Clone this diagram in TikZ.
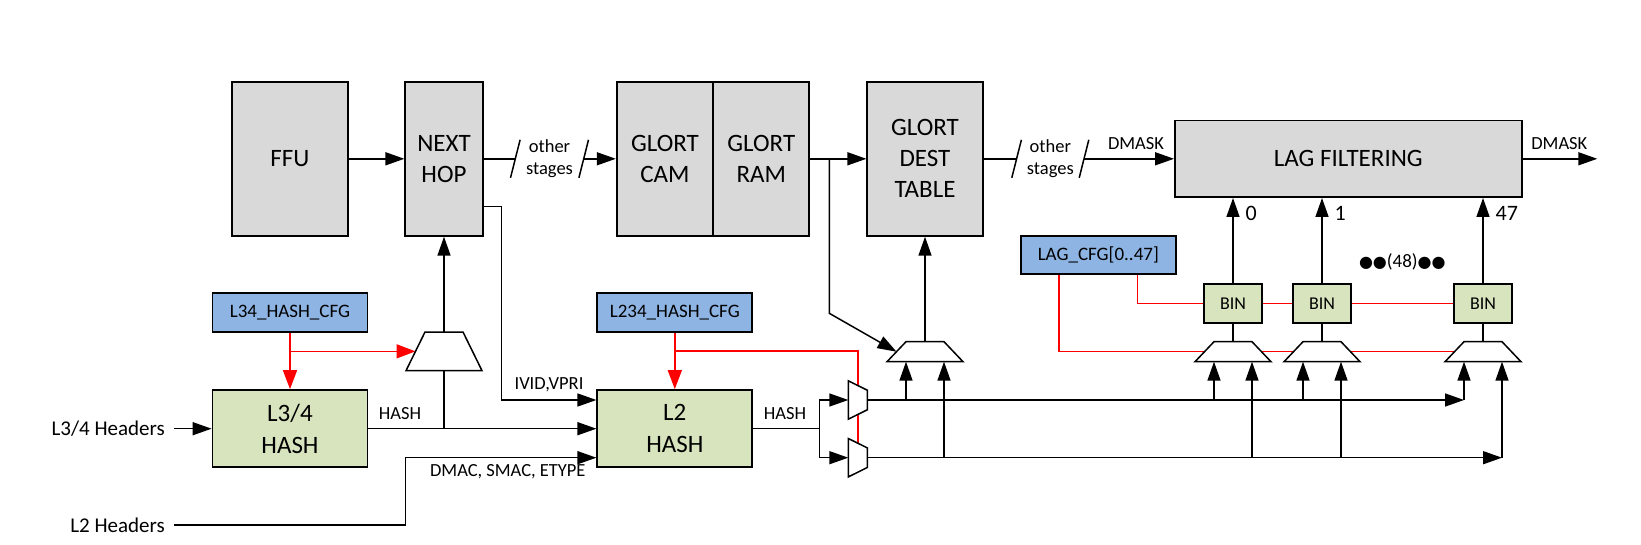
\documentclass[tikz,border=0pt]{standalone}
\usepackage{fontspec}
\setmainfont{Carlito}
\newfontfamily\symfont{DejaVu Sans}
\usetikzlibrary{arrows.meta, calc}
\pgfdeclarelayer{bg}
\pgfsetlayers{bg,main}

\definecolor{unitgray}{HTML}{D9D9D9}
\definecolor{cfgblue}{HTML}{8EB4E3}
\definecolor{hashgreen}{HTML}{D7E4BD}
\newcommand{\bulletpair}{{\symfont\fontsize{16}{18}\selectfont ●●}}

\tikzset{
  unit/.style={draw, line width=1.8pt, fill=unitgray, align=center, inner sep=0pt,
    minimum height=154pt, font=\fontsize{25}{31}\selectfont},
  cfg/.style={draw, line width=1.8pt, fill=cfgblue, minimum width=155pt, minimum height=39pt,
    inner sep=0pt, font=\fontsize{19}{23}\selectfont},
  hashbox/.style={draw, line width=1.8pt, fill=hashgreen, minimum width=155pt, minimum height=77.3pt,
    align=center, inner sep=0pt, font=\fontsize{25}{31.6}\selectfont},
  binbox/.style={draw, line width=1.8pt, fill=hashgreen, minimum width=58pt, minimum height=38.7pt,
    inner sep=0pt, font=\fontsize{18}{22}\selectfont},
  lbl/.style={inner sep=0pt, align=center, font=\fontsize{18.5}{22}\selectfont},
  hdr/.style={inner xsep=9pt, inner ysep=2pt, anchor=east, font=\fontsize{21}{25}\selectfont},
  idx/.style={inner sep=0pt, anchor=west, font=\fontsize{22}{26}\selectfont},
  wire/.style={line width=1.5pt},
  arr/.style={wire, -{Triangle[length=19pt, width=13pt]}},
  cfgline/.style={red, line width=1.5pt},
  cfgarr/.style={cfgline, -{Triangle[length=19pt, width=14pt]}},
  muxline/.style={fill=white, line width=1.5pt, line join=miter},
  % mux lying flat: narrow side on top, #1 = height
  pics/hmux/.style={code={
    \draw[muxline] (-19,0) -- (19,0) -- (38,#1) -- (-38,#1) -- cycle;
    \coordinate (-out) at (0,0);
    \coordinate (-in) at (0,#1);
    \coordinate (-a) at (-19,#1);
    \coordinate (-b) at (19,#1);
    \coordinate (-sel) at (-28.5,#1/2);
  }},
  % mux standing up: narrow side on the right
  pics/vmux/.style={code={
    \draw[muxline] (0,-19.2) -- (19,-9.8) -- (19,9.8) -- (0,19.2) -- cycle;
    \coordinate (-in) at (0,0);
    \coordinate (-out) at (19,0);
    \coordinate (-sel) at (9.5,-14.5);
  }}
}

\begin{document}
\begin{tikzpicture}[x=1pt, y=-1pt]
  \useasboundingbox (0,0) rectangle (1641,545);

  % --- top row: pipeline stages ---
  \node[unit, minimum width=116pt] (ffu) at (290,158.8) {FFU};
  \node[unit, minimum width=77.4pt] (nexthop) at (444,158.8) {NEXT\\HOP};
  \node[unit, minimum width=96.6pt] (cam) at (665,158.8) {GLORT\\CAM};
  \node[unit, minimum width=96pt] (ram) at (761.3,158.8) {GLORT\\RAM};
  \node[unit, minimum width=115.4pt] (dest) at (925,158.8) {GLORT\\DEST\\TABLE};
  \node[unit, minimum width=346.7pt, minimum height=76.6pt] (lag) at (1348.3,158.8) {LAG FILTERING};

  \node[lbl, minimum width=68pt] (stg1) at (549.5,158.8) {other\\stages};
  \node[lbl, minimum width=67pt] (stg2) at (1050.3,158.8) {other\\stages};
  \foreach \s in {stg1, stg2} {
    \draw[wire] ([shift={(4.8,-19)}]\s.west) -- ([shift={(-4.8,19)}]\s.west);
    \draw[wire] ([shift={(4.8,-19)}]\s.east) -- ([shift={(-4.8,19)}]\s.east);
  }

  \draw[arr] (ffu) -- (nexthop);
  \draw[wire] (nexthop) -- (stg1.west);
  \draw[arr] (stg1.east) -- (cam);
  \draw[arr] (ram) -- (dest);
  \draw[wire] (dest) -- (stg2.west);
  \draw[arr] (stg2.east) -- (lag);
  \node[lbl] (dmin) at (1136,144) {DMASK};
  \coordinate (dout) at (1597.3,158.8);
  \draw[arr] (lag) -- (dout);
  \node[lbl] (dmout) at (1559.3,144) {DMASK};

  % --- config blocks and hash units ---
  \node[cfg] (l34cfg) at (290,312.8) {L34\_HASH\_CFG};
  \node[cfg] (l234cfg) at (674.8,312.8) {L234\_HASH\_CFG};
  \node[cfg, minimum width=154.7pt, minimum height=38.6pt] (lagcfg) at (1098.3,255) {LAG\_CFG[0..47]};
  \node[hashbox] (l34hash) at (290,428.7) {L3/4\\HASH};
  \node[hashbox] (l2hash) at (674.8,428.7) {L2\\HASH};

  \node[hdr] (l34hdr) at (174,428.7) {L3/4 Headers};
  \node[hdr] (l2hdr) at (174,525) {L2 Headers};

  % --- muxes ---
  \pic (hmx) at (444,332) {hmux=38.7};
  \pic (dmux) at (925,341.7) {hmux=20};
  \pic (m0) at (1233,341.7) {hmux=20};
  \pic (m1) at (1322,341.7) {hmux=20};
  \pic (m47) at (1483,341.7) {hmux=20};
  \pic (umux) at (848.3,400) {vmux};
  \pic (lmux) at (848.3,457.7) {vmux};

  % --- bins ---
  \node[binbox] (bin0) at (1233,303.3) {BIN};
  \node[binbox] (bin1) at (1322,303.3) {BIN};
  \node[binbox] (bin47) at (1483,303.3) {BIN};
  \foreach \b/\t in {bin0/0, bin1/1, bin47/47} {
    \draw[arr] (\b) -- (\b |- lag.south);
    \node[idx] at ($(\b.north |- lag.south)+(12.5,15.4)$) {\t};
  }
  \draw[wire] (bin0) -- (m0-out);
  \draw[wire] (bin1) -- (m1-out);
  \draw[wire] (bin47) -- (m47-out);
  \node[lbl, font=\fontsize{19}{22}\selectfont] (nbins) at (1402.3,261.7) {\bulletpair(48)\bulletpair};

  % --- hash wiring ---
  \draw[arr] (l34hdr) -- (l34hash);
  \draw[arr] (l34hash) -- (l2hash);
  \node[lbl] (hash1) at (400,414) {HASH};
  \draw[wire] (hmx-in |- l34hash.east) -- (hmx-in);
  \draw[arr] (hmx-out) -- (nexthop);

  \coordinate (ivid) at (501.7,400);
  \draw[arr] (nexthop.east |- 0,206.7) -| (ivid) -- (ivid -| l2hash.west);
  \node[lbl] (ividl) at (549,385) {IVID,VPRI};

  \coordinate (l2turn) at (405.7,457.7);
  \draw[arr] (l2hdr) -| (l2turn) -- (l2turn -| l2hash.west);
  \node[lbl] (dmac) at (507.8,471.7) {DMAC, SMAC, ETYPE};

  \coordinate (split) at (819.3,428.7);
  \draw[wire] (l2hash) -- (split);
  \draw[arr] (split) |- (umux-in);
  \draw[arr] (split) |- (lmux-in);
  \node[lbl] (hash2) at (785,414) {HASH};

  % glort ram output also feeds the dest mux
  \coordinate (rtap) at (829.3,158.8);
  \draw[arr] (rtap) -- ++(0,154.5) -- (dmux-sel);
  \draw[arr] (dmux-out) -- (dest);

  % --- two hash buses ---
  \coordinate (ubend) at (m47-a |- umux-out);
  \coordinate (lbend) at (m47-b |- lmux-out);
  \draw[arr] (umux-out) -- (ubend);
  \draw[arr] (ubend) -- (m47-a);
  \draw[arr] (lmux-out) -- (lbend);
  \draw[arr] (lbend) -- (m47-b);
  \foreach \m in {dmux, m0, m1} {
    \draw[arr] (\m-a |- umux-out) -- (\m-a);
    \draw[arr] (\m-b |- lmux-out) -- (\m-b);
  }

  % --- config lines (red), behind everything ---
  \begin{pgfonlayer}{bg}
    \draw[cfgarr] (l34cfg) -- (l34hash);
    \draw[cfgarr] (hmx-sel -| l34cfg.south) -- (hmx-sel);
    \draw[cfgarr] (l234cfg) -- (l2hash);
    \draw[cfgline] (l234cfg.south |- 0,351) -| (lmux-sel);
    \draw[cfgline] ($(lagcfg.south west)!.25!(lagcfg.south east)$) |- (m47-sel);
    \draw[cfgline] ($(lagcfg.south west)!.75!(lagcfg.south east)$) |- (bin47);
  \end{pgfonlayer}
\end{tikzpicture}
\end{document}
